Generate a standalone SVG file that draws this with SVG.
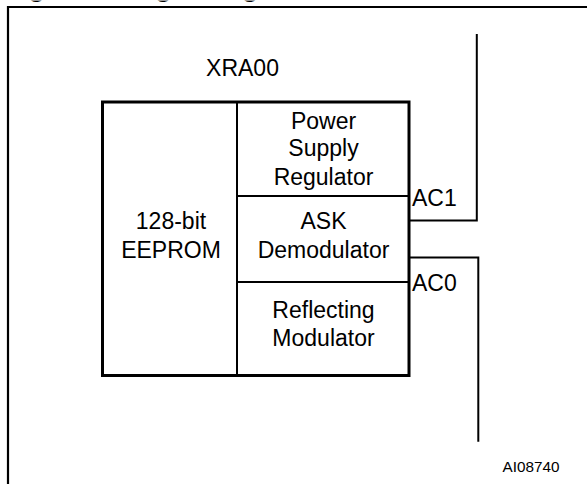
<svg xmlns="http://www.w3.org/2000/svg" width="587" height="484" viewBox="0 0 587 484">
<style>
text{font-family:"Liberation Sans",Arial,Helvetica,sans-serif;fill:#000}
.t{font-size:23px;text-anchor:middle}
.l{font-size:23px}
.ttl{font-size:26.5px;font-weight:bold}
.id{font-size:15.3px}
.frame{fill:none;stroke:#000;stroke-width:2.2}
.box{fill:none;stroke:#000;stroke-width:3}
.div{fill:none;stroke:#000;stroke-width:2}
.wire{fill:none;stroke:#000;stroke-width:2}
</style>
<rect width="587" height="484" fill="#fff"/>
<text class="ttl" x="5" y="-3.2">Figure 1. Logic Diagram</text>
<rect x="0" y="0" width="587" height="0.6" fill="#fff"/>
<path class="frame" d="M8,484 V7 H587"/>
<g id="chip">
<text class="t" x="242.5" y="76">XRA00</text>
<rect class="box" x="102.5" y="102" width="306.5" height="273.5"/>
</g>
<g id="eeprom">
<line class="div" x1="237" y1="102" x2="237" y2="375.5"/>
<text class="t" x="171" y="228.5">128-bit</text>
<text class="t" x="171" y="257.5">EEPROM</text>
</g>
<g id="power-supply-regulator">
<text class="t" x="323.5" y="128.5">Power</text>
<text class="t" x="323.5" y="156">Supply</text>
<text class="t" x="323.5" y="184.5">Regulator</text>
</g>
<g id="ask-demodulator">
<line class="div" x1="237" y1="196" x2="409" y2="196"/>
<text class="t" x="323.5" y="228.5">ASK</text>
<text class="t" x="323.5" y="257.5">Demodulator</text>
</g>
<g id="reflecting-modulator">
<line class="div" x1="237" y1="282" x2="409" y2="282"/>
<text class="t" x="323.5" y="317.5">Reflecting</text>
<text class="t" x="323.5" y="345.5">Modulator</text>
</g>
<g id="connectors">
<path class="wire" d="M409,220.5 H476.8 V34"/>
<path class="wire" d="M409,257.5 H478.3 V441.7"/>
</g>
<g id="labels">
<text class="l" x="412" y="205.5">AC1</text>
<text class="l" x="412" y="291">AC0</text>
<text class="id" x="502.5" y="472">AI08740</text>
</g>
</svg>
